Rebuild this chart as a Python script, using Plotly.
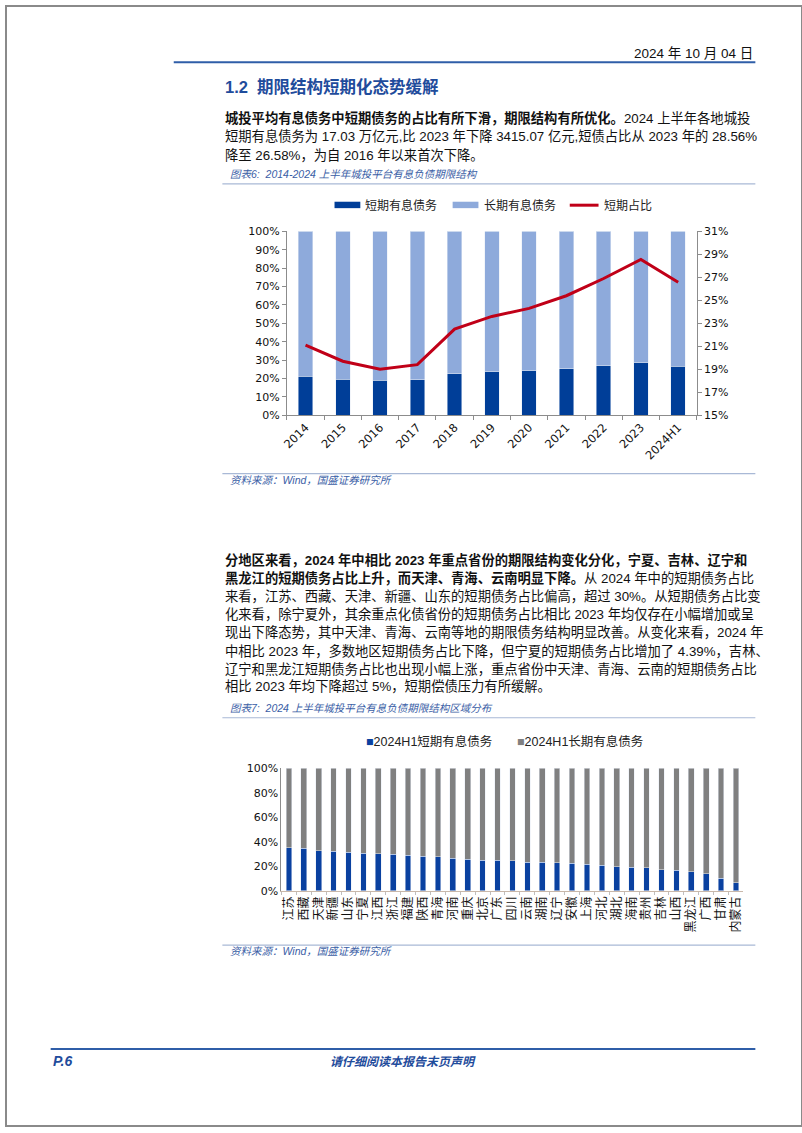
import plotly.graph_objects as go

# ---------------- data ----------------
years = ["2014", "2015", "2016", "2017", "2018", "2019", "2020", "2021", "2022", "2023", "2024H1"]
short_share = [21.1, 19.7, 19.0, 19.4, 22.5, 23.6, 24.3, 25.4, 26.9, 28.56, 26.58]
long_share = [round(100 - v, 2) for v in short_share]

regions = ["江苏", "西藏", "天津", "新疆", "山东", "宁夏", "江西", "浙江", "福建", "陕西", "青海",
           "河南", "重庆", "北京", "广东", "四川", "云南", "湖南", "辽宁", "安徽", "上海", "河北",
           "湖北", "海南", "贵州", "吉林", "山西", "黑龙江", "广西", "甘肃", "内蒙古"]
region_short = [34.9, 34.7, 32.7, 32.4, 31.4, 30.6, 30.0, 29.8, 29.0, 28.2, 27.6,
                26.3, 25.7, 24.9, 24.9, 24.3, 23.1, 23.1, 22.7, 22.3, 21.7, 20.6,
                19.7, 19.3, 18.8, 17.2, 16.6, 15.6, 14.0, 10.2, 6.5]
region_long = [round(100 - v, 2) for v in region_short]

W, H = 802, 1133
def X(px): return px / W
def Y(py): return 1 - py / H

DARK = "#003e98"
LIGHT = "#8eaadb"
RED = "#c00018"
GRAY = "#808080"
BLUE2 = "#0a41a0"
TXT = "Noto Sans CJK SC"
NUM = "DejaVu Sans"
CAPC = "#3a5ea6"

fig = go.Figure()

# chart 1
fig.add_trace(go.Bar(x=years, y=short_share, marker_color=DARK, width=0.39,
                     xaxis="x", yaxis="y", name="短期有息债务"))
fig.add_trace(go.Bar(x=years, y=long_share, marker_color=LIGHT, width=0.39,
                     xaxis="x", yaxis="y", name="长期有息债务"))
fig.add_trace(go.Scatter(x=years, y=short_share, mode="lines", line=dict(color=RED, width=3),
                         xaxis="x", yaxis="y2", name="短期占比"))
# chart 2
fig.add_trace(go.Bar(x=regions, y=region_short, marker_color=BLUE2, width=0.38,
                     xaxis="x3", yaxis="y3", name="2024H1短期有息债务"))
fig.add_trace(go.Bar(x=regions, y=region_long, marker_color=GRAY, width=0.38,
                     xaxis="x3", yaxis="y3", name="2024H1长期有息债务"))

axcol = "#8c8c8c"
tickf = dict(family=NUM, size=11, color="#111")

fig.update_layout(
    width=W, height=H, margin=dict(l=0, r=0, t=0, b=0),
    paper_bgcolor="white", plot_bgcolor="rgba(0,0,0,0)",
    barmode="stack", showlegend=False,
    xaxis=dict(domain=[X(283), X(696)], anchor="y", type="category", showline=True,
               linecolor=axcol, ticks="outside", tickson="boundaries", ticklen=4,
               tickcolor=axcol, tickangle=-45, tickfont=dict(family=NUM, size=11.5, color="#111"),
               showgrid=False),
    yaxis=dict(domain=[Y(414), Y(228)], anchor="x", range=[0, 100], dtick=10, ticksuffix="%",
               showline=True, linecolor=axcol, ticks="outside", ticklen=4, tickcolor=axcol,
               tickfont=tickf, showgrid=False, zeroline=False),
    yaxis2=dict(overlaying="y", side="right", anchor="x", range=[15, 31], tick0=15, dtick=2,
                ticksuffix="%", showline=True, linecolor=axcol, ticks="outside", ticklen=4,
                tickcolor=axcol, tickfont=tickf, showgrid=False, zeroline=False),
    xaxis3=dict(domain=[X(277.5), X(743)], anchor="y3", type="category", showline=True,
                linecolor="#c9b8aa", ticks="outside", tickson="boundaries", ticklen=3,
                tickcolor="#bfbfbf", tickangle=-90,
                tickfont=dict(family=TXT, size=12, color="#111"), showgrid=False),
    yaxis3=dict(domain=[Y(895), Y(771)], anchor="x3", range=[0, 100], dtick=20, ticksuffix="%",
                showline=True, linecolor=axcol, ticks="", tickfont=tickf, showgrid=False,
                zeroline=False),
)

ann = []
def text(x, y, s, size=13.3, color="#111", anchor="left", family=TXT, **kw):
    ann.append(dict(x=X(x), y=Y(y), xref="paper", yref="paper", text=s, showarrow=False,
                    xanchor=anchor, yanchor="middle", align=anchor if anchor != "center" else "center",
                    font=dict(size=size, color=color, family=family), **kw))

BODY = "Liberation Sans, " + TXT
# header
text(755, 48, "2024 年 10 月 04 日", size=13.5, anchor="right", family=BODY)
text(219, 81, "<b>1.2  期限结构短期化态势缓解</b>", size=16.5, color="#1f4c9c", family=BODY)

p1 = ["<b>城投平均有息债务中短期债务的占比有所下滑，期限结构有所优化。</b>2024 上半年各地城投",
      "短期有息债务为 17.03 万亿元,比 2023 年下降 3415.07 亿元,短债占比从 2023 年的 28.56%",
      "降至 26.58%，为自 2016 年以来首次下降。"]
for i, s in enumerate(p1):
    text(219, 113 + i * 19, s, family=BODY)

text(224, 170, "<i>图表6:  2014-2024 上半年城投平台有息负债期限结构</i>", size=10.5, color=CAPC, family=BODY)
text(224, 479, "<i>资料来源：Wind，国盛证券研究所</i>", size=10.5, color=CAPC, family=BODY)

p2 = ["<b>分地区来看，2024 年中相比 2023 年重点省份的期限结构变化分化，宁夏、吉林、辽宁和</b>",
      "<b>黑龙江的短期债务占比上升，而天津、青海、云南明显下降。</b>从 2024 年中的短期债务占比",
      "来看，江苏、西藏、天津、新疆、山东的短期债务占比偏高，超过 30%。从短期债务占比变",
      "化来看，除宁夏外，其余重点化债省份的短期债务占比相比 2023 年均仅存在小幅增加或呈",
      "现出下降态势，其中天津、青海、云南等地的期限债务结构明显改善。从变化来看，2024 年",
      "中相比 2023 年，多数地区短期债务占比下降，但宁夏的短期债务占比增加了 4.39%，吉林、",
      "辽宁和黑龙江短期债务占比也出现小幅上涨，重点省份中天津、青海、云南的短期债务占比",
      "相比 2023 年均下降超过 5%，短期偿债压力有所缓解。"]
for i, s in enumerate(p2):
    text(219, 560 + i * 18.4, s, family=BODY)

text(224, 710, "<i>图表7:  2024 上半年城投平台有息负债期限结构区域分布</i>", size=10.5, color=CAPC, family=BODY)
text(224, 956, "<i>资料来源：Wind，国盛证券研究所</i>", size=10.5, color=CAPC, family=BODY)

# legends chart 1
text(360, 201, "短期有息债务", size=12, color="#222")
text(480, 201, "长期有息债务", size=12, color="#222")
text(600, 201, "短期占比", size=12, color="#222")
# legend chart 2
text(361, 744, "<span style='color:%s'>■</span>2024H1短期有息债务" % BLUE2, size=12.5, color="#222", family=BODY)
text(513, 744, "<span style='color:%s'>■</span>2024H1长期有息债务" % GRAY, size=12.5, color="#222", family=BODY)

# footer
text(45, 1067, "<b><i>P.6</i></b>", size=14, color="#1f4c9c", family=BODY)
text(400, 1067, "<b><i>请仔细阅读本报告末页声明</i></b>", size=12, color="#1f4c9c", anchor="center")

fig.update_layout(annotations=ann)

shapes = [
    dict(type="rect", xref="paper", yref="paper", x0=0, y0=0, x1=1, y1=1,
         line=dict(color="#8a8a8a", width=2)),
    dict(type="line", xref="paper", yref="paper", x0=X(169), x1=X(755), y0=Y(57), y1=Y(57),
         line=dict(color="#2f5ea8", width=2)),
    dict(type="line", xref="paper", yref="paper", x0=X(218), x1=X(755), y0=Y(180), y1=Y(180),
         line=dict(color="#a9b9d6", width=1.2)),
    dict(type="line", xref="paper", yref="paper", x0=X(218), x1=X(755), y0=Y(473), y1=Y(473),
         line=dict(color="#a9b9d6", width=1.2)),
    dict(type="line", xref="paper", yref="paper", x0=X(218), x1=X(755), y0=Y(720), y1=Y(720),
         line=dict(color="#a9b9d6", width=1.2)),
    dict(type="line", xref="paper", yref="paper", x0=X(218), x1=X(755), y0=Y(950), y1=Y(950),
         line=dict(color="#a9b9d6", width=1.2)),
    dict(type="line", xref="paper", yref="paper", x0=X(45), x1=X(755), y0=Y(1055), y1=Y(1055),
         line=dict(color="#2f5ea8", width=2)),
    # legend keys chart 1
    dict(type="rect", xref="paper", yref="paper", x0=X(331), x1=X(357), y0=Y(204.5), y1=Y(198),
         fillcolor=DARK, line=dict(width=0)),
    dict(type="rect", xref="paper", yref="paper", x0=X(450), x1=X(476), y0=Y(204.5), y1=Y(198),
         fillcolor=LIGHT, line=dict(width=0)),
    dict(type="line", xref="paper", yref="paper", x0=X(568), x1=X(597), y0=Y(201.5), y1=Y(201.5),
         line=dict(color=RED, width=3)),
]
fig.update_layout(shapes=shapes)

fig.write_html("out.html")
